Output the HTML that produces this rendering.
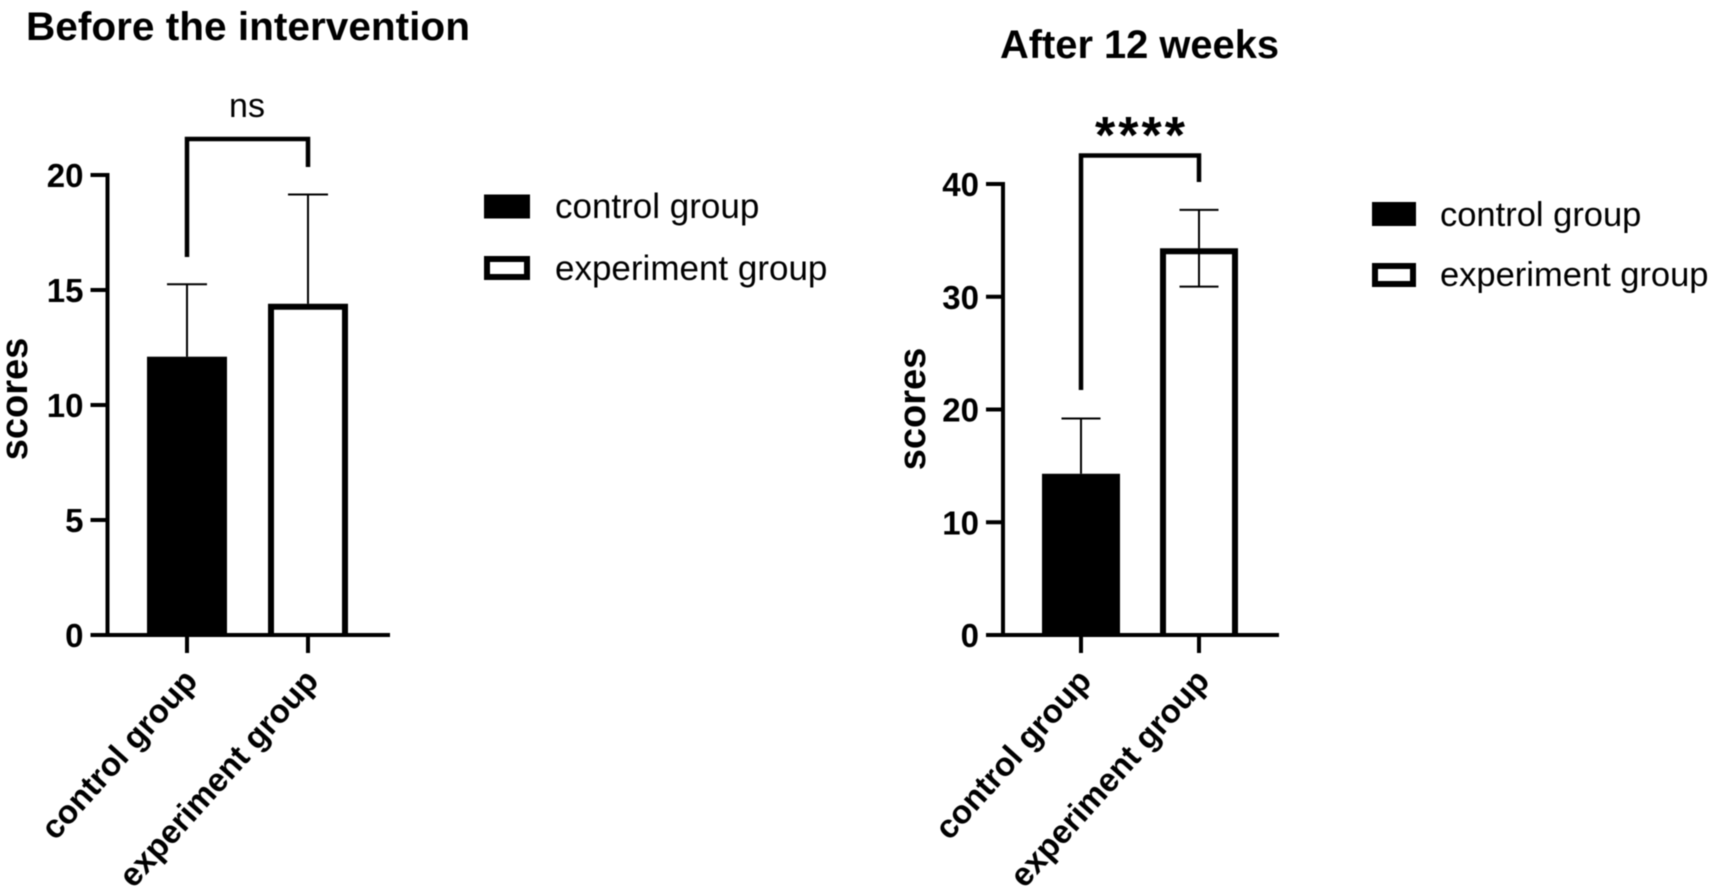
<!DOCTYPE html>
<html lang="en">
<head>
<meta charset="utf-8">
<title>Scores before the intervention and after 12 weeks</title>
<style>
html,body{margin:0;padding:0;background:#fff;width:1713px;height:896px;overflow:hidden}
svg{display:block;font-family:"Liberation Sans",sans-serif;fill:#000;filter:blur(0.4px)}
</style>
</head>
<body>
<svg id="figure" width="1713" height="896" viewBox="0 0 1713 896" xmlns="http://www.w3.org/2000/svg"></svg>
<script>
const categories = ['control group', 'experiment group'];
const beforeMeans = [12.1, 14.4];
const beforeErrors = [3.15, 4.75];
const beforeTicks = [0, 5, 10, 15, 20];
const afterMeans = [14.3, 34.3];
const afterErrors = [4.9, 3.4];
const afterTicks = [0, 10, 20, 30, 40];
const beforeTitle = 'Before the intervention';
const afterTitle = 'After 12 weeks';
const beforeSignificance = 'ns';
const afterSignificance = '****';

const svg = document.getElementById('figure');
const NS = 'http://www.w3.org/2000/svg';

function make(tag, attrs, parent) {
  const el = document.createElementNS(NS, tag);
  for (const k in attrs) el.setAttribute(k, attrs[k]);
  parent.appendChild(el);
  return el;
}
function line(parent, x1, y1, x2, y2, w) {
  return make('line', {x1: x1, y1: y1, x2: x2, y2: y2, stroke: '#000', 'stroke-width': w}, parent);
}

function drawPanel(p) {
  const g = make('g', {}, svg);
  
  

  const maxTick = p.ticks[p.ticks.length - 1];
  const yScale = v => p.y0 - (v / maxTick) * (p.y0 - p.yTop);
  const xScale = i => p.xs[i];

  const title = make('text', {x: p.titleX, y: p.titleY, 'font-size': 40, 'font-weight': 700, textLength: p.titleLen, lengthAdjust: 'spacingAndGlyphs'}, g);
  title.textContent = p.title;
  
  

  const yTitle = make('text', {transform: 'translate(' + p.yTitleX + ' ' + p.yTitleY + ') rotate(-90)', 'text-anchor': 'middle', 'font-size': 38, 'font-weight': 700}, g);
  yTitle.textContent = 'scores';
  
  

  categories.forEach((c, i) => {
    const x = xScale(i);
    const top = yScale(p.means[i]);
    const errTop = yScale(p.means[i] + p.errors[i]);
    const errBottom = yScale(p.means[i] - p.errors[i]);

    let bar;
    if (i === 0) {
      bar = make('rect', {x: x - p.barW / 2, y: top, width: p.barW, height: p.y0 - top, fill: '#000'}, g);
    } else {
      const l = x - p.barW / 2 + 3;
      const r = x + p.barW / 2 - 3;
      bar = make('path', {d: 'M' + l + ' ' + p.y0 + 'V' + (top + 3) + 'H' + r + 'V' + p.y0, fill: '#fff', stroke: '#000', 'stroke-width': 6}, g);
    }
    
    

    const err = make('g', {}, g);
    
    
    line(err, x, top, x, errTop, 2);
    line(err, x - p.capW / 2, errTop, x + p.capW / 2, errTop, 2);
    if (p.showLower && i === 1) {
      line(err, x, top, x, errBottom, 2);
      line(err, x - p.capW / 2, errBottom, x + p.capW / 2, errBottom, 2);
    }

    const tick = line(g, x, p.y0, x, p.y0 + 18, 4);
    
    

    const lab = make('text', {transform: 'translate(' + (x + 12) + ' ' + (p.y0 + 47) + ') rotate(-48)', 'text-anchor': 'end', 'font-size': 33, 'font-weight': 700}, g);
    lab.textContent = c;
    
    
  });

  const yAxis = line(g, p.axisX, p.yTop - 2, p.axisX, p.y0 + 2, 4);
  
  

  const xAxis = line(g, p.axisX - 17, p.y0, p.xEnd, p.y0, 4);
  
  

  p.ticks.forEach(t => {
    const y = yScale(t);
    const tk = line(g, p.axisX - 17, y, p.axisX, y, 4);
    
    
    const lab = make('text', {x: p.axisX - 24, y: y + 12, 'text-anchor': 'end', 'font-size': 33, 'font-weight': 700}, g);
    lab.textContent = t;
    
    
  });

  const bracket = make('polyline', {points: xScale(0) + ',' + p.brLeftEnd + ' ' + xScale(0) + ',' + p.brTop + ' ' + xScale(1) + ',' + p.brTop + ' ' + xScale(1) + ',' + p.brRightEnd, fill: 'none', stroke: '#000', 'stroke-width': 4.5}, g);
  
  

  const sig = make('text', {x: p.sigX, y: p.sigY, 'text-anchor': 'middle', 'font-size': p.sigSize, 'font-weight': p.sigWeight, 'letter-spacing': p.sigSpacing}, g);
  sig.textContent = p.sig;
  
  

  const legend = make('g', {}, g);
  
  
  categories.forEach((c, i) => {
    const entry = make('g', {}, legend);
    
    
    const sy = p.legendY[i];
    if (i === 0) {
      make('rect', {x: p.legendX, y: sy, width: p.swW, height: 24, fill: '#000'}, entry);
    } else {
      make('rect', {x: p.legendX + 3, y: sy + 3, width: p.swW - 6, height: 18, fill: '#fff', stroke: '#000', 'stroke-width': 6}, entry);
    }
    const t = make('text', {x: p.legendTextX, y: p.legendBase[i], 'font-size': p.legendSize}, entry);
    t.textContent = c;
  });
}

drawPanel({
  name: 'before', title: beforeTitle, means: beforeMeans, errors: beforeErrors, ticks: beforeTicks, sig: beforeSignificance,
  titleX: 26, titleY: 40, titleLen: 444,
  axisX: 107.5, y0: 635, yTop: 175, xEnd: 390, xs: [187, 308], barW: 80, capW: 40, showLower: false,
  yTitleX: 27, yTitleY: 399,
  brTop: 139, brLeftEnd: 257, brRightEnd: 167,
  sigX: 247, sigY: 117, sigSize: 34, sigWeight: 400, sigSpacing: 0,
  legendX: 484, legendY: [194.5, 256], swW: 46, legendTextX: 555, legendBase: [218, 280], legendSize: 35
});
drawPanel({
  name: 'after', title: afterTitle, means: afterMeans, errors: afterErrors, ticks: afterTicks, sig: afterSignificance,
  titleX: 1000, titleY: 58, titleLen: 279,
  axisX: 1003, y0: 635, yTop: 184, xEnd: 1279, xs: [1081, 1199], barW: 78, capW: 39, showLower: true,
  yTitleX: 925, yTitleY: 409,
  brTop: 155.5, brLeftEnd: 390, brRightEnd: 182,
  sigX: 1141.5, sigY: 153, sigSize: 52, sigWeight: 700, sigSpacing: 3,
  legendX: 1372, legendY: [202, 263], swW: 44, legendTextX: 1440, legendBase: [226, 286], legendSize: 34.5
});
</script>
</body>
</html>
